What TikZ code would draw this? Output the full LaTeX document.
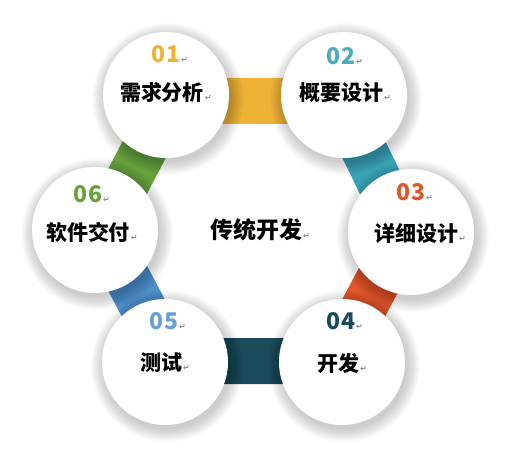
\documentclass[tikz,border=0pt]{standalone}
\usepackage{fontspec}
\newfontfamily\cjk{Noto Sans CJK SC}
\newfontfamily\markfont{DejaVu Sans}
\usetikzlibrary{calc}

\definecolor{col01}{HTML}{EFB236}
\definecolor{col02}{HTML}{38A3B6}
\definecolor{col03}{HTML}{E0572A}
\definecolor{col04}{HTML}{1B4B5B}
\definecolor{col05}{HTML}{4F8FCB}
\definecolor{col06}{HTML}{67A23D}
\definecolor{retgray}{HTML}{8C8C8C}

\newcommand{\retmark}{\rlap{\kern1pt\markfont\fontsize{8}{8}\selectfont\textcolor{retgray}{↵}}}

\tikzset{
  stage/.style={circle, fill=white, minimum size=126pt, inner sep=0pt},
  num/.style={font=\cjk\bfseries\fontsize{23}{23}\selectfont, inner sep=0pt},
  title/.style={font=\cjk\bfseries\fontsize{21}{21}\selectfont, inner sep=0pt},
  band/.style={line width=46pt}
}

\begin{document}
\begin{tikzpicture}[x=1pt,y=-1pt]
  \useasboundingbox (0,0) rectangle (507,458);

  % 圆心
  \coordinate (o) at (254,230);
  \coordinate (p1) at (166,95);
  \coordinate (p2) at (344,95);
  \coordinate (p3) at (411,232);
  \coordinate (p4) at (342,362);
  \coordinate (p5) at (165,362);
  \coordinate (p6) at (95,230);

  % 色带
  \draw[band, col01] ($(p1)!7pt!(o)$) -- ($(p2)!7pt!(o)$);
  \draw[band, col02] ($(p2)!7pt!(o)$) -- ($(p3)!7pt!(o)$);
  \draw[band, col03] ($(p3)!7pt!(o)$) -- ($(p4)!7pt!(o)$);
  \draw[band, col04] ($(p4)!1pt!(o)$) -- ($(p5)!1pt!(o)$);
  \draw[band, col05] ($(p5)!7pt!(o)$) -- ($(p6)!7pt!(o)$);
  \draw[band, col06] ($(p6)!7pt!(o)$) -- ($(p1)!7pt!(o)$);

  % 阴影
  \foreach \p in {p1,p2,p3,p4,p5,p6}
    \foreach \k in {1,...,14}
      \fill[black, opacity=0.014] ($(\p)+(2,4)$) circle ({62pt+\k pt});

  % 圆
  \node[stage] (s1) at (p1) {};
  \node[stage] (s2) at (p2) {};
  \node[stage] (s3) at (p3) {};
  \node[stage] (s4) at (p4) {};
  \node[stage] (s5) at (p5) {};
  \node[stage] (s6) at (p6) {};

  % 编号
  \node[num, text=col01] (n1) at (166,54) {01\retmark};
  \node[num, text=col02!90!white] (n2) at (341,56) {02\retmark};
  \node[num, text=col03] (n3) at (411,192) {03\retmark};
  \node[num, text=col04] (n4) at (341,321) {04\retmark};
  \node[num, text=col05!85!white] (n5) at (164,321) {05\retmark};
  \node[num, text=col06] (n6) at (88,194) {06\retmark};

  % 阶段名称
  \node[title] (t1) at (162,92) {需求分析\retmark};
  \node[title] (t2) at (341,93) {概要设计\retmark};
  \node[title] (t3) at (416,233) {详细设计\retmark};
  \node[title] (t4) at (338,363) {开发\retmark};
  \node[title] (t5) at (161,363) {测试\retmark};
  \node[title] (t6) at (88,232) {软件交付\retmark};

  % 中间
  \node[title, font=\cjk\bfseries\fontsize{23}{23}\selectfont] (hub) at (256,230) {传统开发\retmark};
\end{tikzpicture}
\end{document}
